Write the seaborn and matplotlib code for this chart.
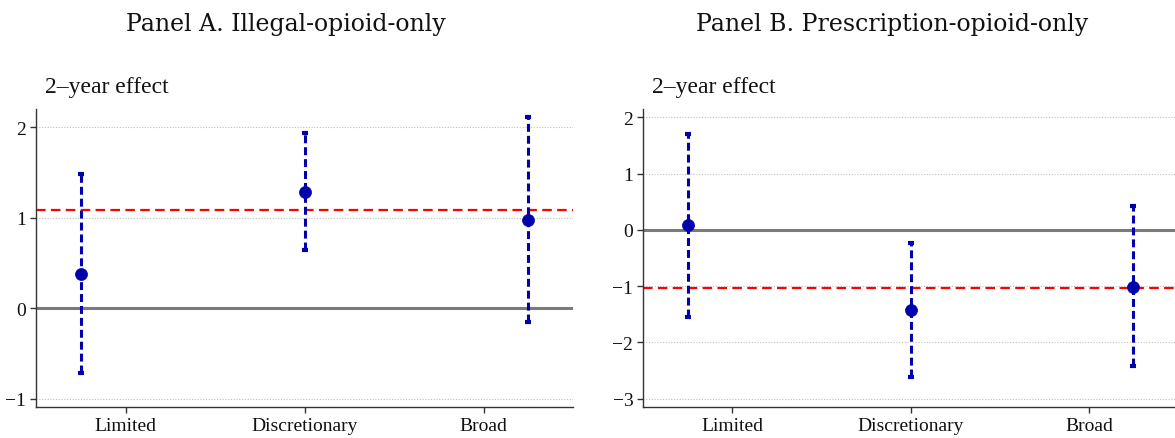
import matplotlib
matplotlib.use("Agg")
import matplotlib.pyplot as plt
import seaborn as sns
import numpy as np
import pandas as pd

categories = ["Limited", "Discretionary", "Broad"]

a_est = [0.38, 1.28, 0.97]
a_lo = [-0.72, 0.64, -0.155]
a_hi = [1.48, 1.94, 2.11]
a_ref = 1.09
a_yticks = [-1, 0, 1, 2]

b_est = [0.09, -1.43, -1.01]
b_lo = [-1.545, -2.61, -2.42]
b_hi = [1.71, -0.225, 0.42]
b_ref = -1.025
b_yticks = [-3, -2, -1, 0, 1, 2]

titles = ["Panel A. Illegal-opioid-only", "Panel B. Prescription-opioid-only"]
ylabel = "2\u2013year effect"

sns.set_theme(style="white")
plt.rcParams["font.family"] = ["Liberation Serif", "DejaVu Serif"]
plt.rcParams["axes.unicode_minus"] = True

W, H = 1175, 439
fig = plt.figure(figsize=(W / 100, H / 100), dpi=100)

BLUE = "#0000AD"
panels = [
    dict(est=a_est, lo=a_lo, hi=a_hi, ref=a_ref, yticks=a_yticks,
         ylim=(-1.09, 2.2), box=(36, 110, 573, 408), title_x=286, lab_x=45),
    dict(est=b_est, lo=b_lo, hi=b_hi, ref=b_ref, yticks=b_yticks,
         ylim=(-3.15, 2.15), box=(643, 110, 1178, 408), title_x=892, lab_x=652),
]
dodge = np.array([-0.25, 0.0, 0.25])

for p, title in zip(panels, titles):
    x0, y0, x1, y1 = p["box"]
    ax = fig.add_axes([x0 / W, 1 - y1 / H, (x1 - x0) / W, (y1 - y0) / H])
    df = pd.DataFrame({"cat": categories, "est": p["est"], "lo": p["lo"], "hi": p["hi"]})
    df["pos"] = np.arange(1, len(categories) + 1) + dodge

    ax.yaxis.grid(True, linestyle=(0, (1, 1.5)), color="#bdbdbd", linewidth=0.8, zorder=0)
    ax.axhline(0, color="#7a7a7a", linewidth=2.2, zorder=1)
    ax.axhline(p["ref"], color="#ff0000", linestyle=(0, (4.3, 2.4)), linewidth=1.6, zorder=2)

    ax.vlines(df["pos"], df["lo"], df["hi"], colors=BLUE, linestyles=(0, (2.6, 1.3)),
              linewidth=2.2, zorder=3)
    ax.plot(df["pos"], df["lo"], ls="none", marker="_", ms=5, mew=3, color=BLUE, zorder=3)
    ax.plot(df["pos"], df["hi"], ls="none", marker="_", ms=5, mew=3, color=BLUE, zorder=3)
    sns.scatterplot(data=df, x="pos", y="est", ax=ax, color=BLUE, s=75,
                    edgecolor=BLUE, linewidth=0.5, zorder=4, legend=False)

    ax.set_xlim(0.5, 3.5)
    ax.set_ylim(*p["ylim"])
    ax.set_xticks(np.arange(1, len(categories) + 1), categories)
    ax.set_yticks(p["yticks"])
    ax.set_yticklabels([f"{v}".replace("-", "\u2212") for v in p["yticks"]])
    ax.set_xlabel("")
    ax.set_ylabel("")
    for s in ["top", "right"]:
        ax.spines[s].set_visible(False)
    for s in ["left", "bottom"]:
        ax.spines[s].set_color("#333333")
        ax.spines[s].set_linewidth(1.0)
    ax.tick_params(axis="both", which="major", direction="out", length=4, width=1,
                   color="#333333", labelsize=14, labelcolor="#111111", pad=3,
                   bottom=True, left=True)

    fig.text(p["title_x"] / W, 1 - 24 / H, title, ha="center", va="center",
             fontsize=17, family=["DejaVu Serif"], color="#111111")
    fig.text(p["lab_x"] / W, 1 - 88 / H, ylabel, ha="left", va="center",
             fontsize=17, color="#111111")

fig.savefig("out.png", dpi=100)
